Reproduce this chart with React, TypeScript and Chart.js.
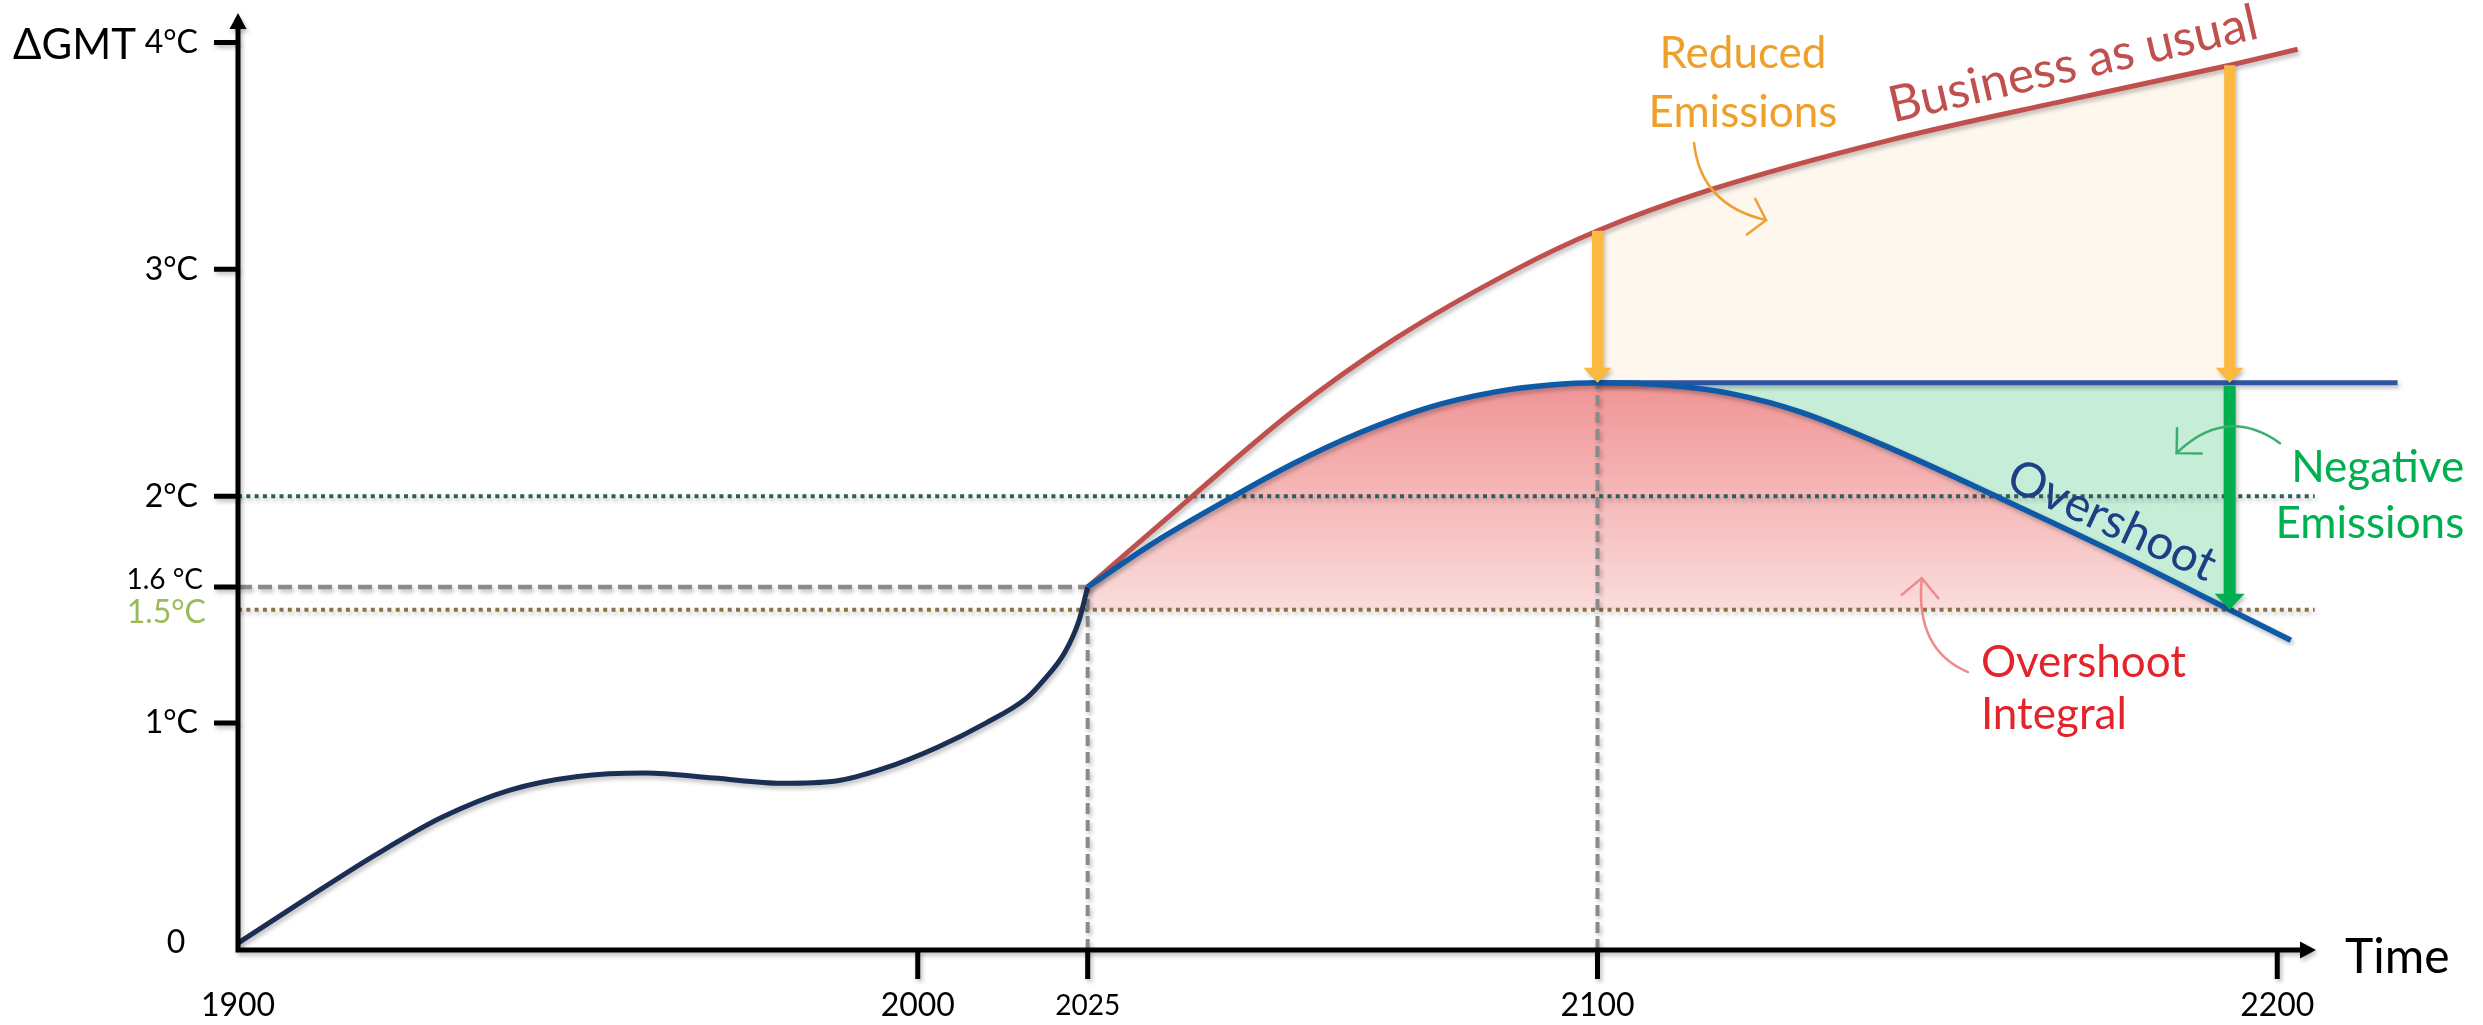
import React, { useEffect, useRef } from 'react';
import { Chart, registerables } from 'chart.js';

Chart.register(...registerables);

// ---------- scale extents ----------
const yearMin = 1900;
const yearMax = 2205.7;
const tempMin = 0;
const tempMax = 4.13;

// ---------- series ----------
const historyYears = [1900, 1910, 1920, 1930, 1940, 1950, 1960, 1970, 1980, 1988, 1995, 2003, 2010, 2016, 2018.4, 2021.6, 2023.7, 2025];
const historyTemps = [0.03, 0.225, 0.415, 0.585, 0.705, 0.765, 0.78, 0.758, 0.735, 0.745, 0.80, 0.895, 1.0, 1.11, 1.185, 1.31, 1.45, 1.6];

const bauYears = [2025, 2040, 2055, 2070, 2088, 2100, 2116.5, 2143, 2169, 2193, 2203];
const bauTemps = [1.6, 1.99, 2.37, 2.69, 3.0, 3.17, 3.35, 3.57, 3.745, 3.9, 3.97];

const overshootYears = [2025, 2035, 2045, 2055, 2065, 2075, 2085, 2093, 2100, 2110, 2120, 2130, 2144, 2159, 2177, 2193, 2202];
const overshootTemps = [1.6, 1.8, 1.975, 2.14, 2.28, 2.39, 2.46, 2.49, 2.5, 2.49, 2.45, 2.37, 2.2, 1.995, 1.74, 1.5, 1.365];

const plateauYears = [2100, 2217.7];
const plateauTemp = 2.5;

const todayYear = 2025;
const todayTemp = 1.6;
const peakYear = 2100;
const actionYear = 2193;

const limitTemps = [2.0, 1.5];
const limitSpan = [1900, 2205.5];

// ---------- ticks ----------
const yTickValues = [4, 3, 2, 1.6, 1];
const yTickLabels = ['4°C', '3°C', '2°C', '1.6 °C', '1°C'];
const xTickValues = [2000, 2025, 2100, 2200];
const xLabelValues = [1900, 2000, 2025, 2100, 2200];
const xLabelTexts = ['1900', '2000', '2025', '2100', '2200'];

// ---------- annotation anchors (data units) ----------
const reducedNoteCurve = [[2114.2, 3.557], [2115.2, 3.283], [2124.8, 3.217]];
const negativeNoteCurve = [[2200.4, 2.234], [2192.5, 2.402], [2185.2, 2.19]];
const integralNoteCurve = [[2154.5, 1.225], [2146.7, 1.322], [2147.7, 1.639]];

const FONT = 'Lato, "Open Sans", "DejaVu Sans", sans-serif';

const pts = (xs: number[], ys: number[]) => xs.map((x, i) => ({ x, y: ys[i] }));

function drawText(ctx: any, text: string, x: number, y: number, o: any) {
  ctx.save();
  ctx.translate(x, y);
  if (o.rotate) ctx.rotate((o.rotate * Math.PI) / 180);
  ctx.font = `${o.size}px ${FONT}`;
  ctx.fillStyle = o.color || '#000';
  ctx.textAlign = o.align || 'left';
  ctx.textBaseline = o.baseline || 'alphabetic';
  ctx.fillText(text, 0, 0);
  ctx.restore();
}

function setShadow(ctx: any) {
  ctx.shadowColor = 'rgba(0,0,0,0.25)';
  ctx.shadowBlur = 4;
  ctx.shadowOffsetX = 2;
  ctx.shadowOffsetY = 3;
}

export default function App() {
  const ref = useRef<HTMLCanvasElement>(null);

  useEffect(() => {
    const canvas = ref.current;
    if (!canvas) return;

    const history = pts(historyYears, historyTemps);
    const bau = pts(bauYears, bauTemps);
    const overshoot = pts(overshootYears, overshootTemps);
    const plateau = plateauYears.map((x) => ({ x, y: plateauTemp }));
    const bauAction = bau.filter((p) => p.x >= peakYear && p.x <= actionYear);
    const overshootAction = overshoot.filter((p) => p.x >= peakYear && p.x <= actionYear);

    const curve = (data: any, color: string, width: number) => ({
      data,
      borderColor: color,
      borderWidth: width,
      pointRadius: 0,
      fill: false,
      cubicInterpolationMode: 'monotone',
      clip: false,
      shadow: true,
    });
    const guide = (data: any, color: string, dash: number[], width: number) => ({
      data,
      borderColor: color,
      borderWidth: width,
      borderDash: dash,
      borderCapStyle: 'butt',
      pointRadius: 0,
      fill: false,
      tension: 0,
      clip: false,
      shadow: true,
    });

    const datasets: any[] = [
      curve(overshoot, '#0E5AA7', 5.5),
      curve(plateau, '#2E55A5', 5),
      curve(bau, '#C0504D', 5),
      curve(history, '#1B2F55', 5),
      guide([{ x: yearMin, y: todayTemp }, { x: todayYear, y: todayTemp }], '#8A8A8A', [14, 6], 4.5),
      guide([{ x: todayYear, y: tempMin }, { x: todayYear, y: todayTemp }], '#8A8A8A', [11, 6], 4),
      guide([{ x: peakYear, y: tempMin }, { x: peakYear, y: plateauTemp }], '#8A8A8A', [11, 6], 4),
      guide(limitSpan.map((x) => ({ x, y: limitTemps[0] })), '#2E5D5A', [4, 4.3], 4),
      guide(limitSpan.map((x) => ({ x, y: limitTemps[1] })), '#8C7047', [4, 4.3], 4),
      {
        data: bauAction,
        borderWidth: 0,
        pointRadius: 0,
        backgroundColor: '#FEF7EE',
        fill: { value: plateauTemp },
        cubicInterpolationMode: 'monotone',
        clip: false,
      },
      {
        data: overshootAction,
        borderWidth: 0,
        pointRadius: 0,
        backgroundColor: '#C6EDD8',
        fill: { value: plateauTemp },
        cubicInterpolationMode: 'monotone',
        clip: false,
      },
      {
        data: overshoot,
        borderWidth: 0,
        pointRadius: 0,
        backgroundColor: (c: any) => {
          const ch = c.chart;
          if (!ch.chartArea || !ch.scales.y) return 'rgba(240,150,150,0.6)';
          const y = ch.scales.y;
          const g = ch.ctx.createLinearGradient(0, y.getPixelForValue(plateauTemp), 0, y.getPixelForValue(limitTemps[1]));
          g.addColorStop(0, '#F09495');
          g.addColorStop(1, '#FBDCDC');
          return g;
        },
        fill: { target: { value: limitTemps[1] }, below: 'rgba(0,0,0,0)' },
        cubicInterpolationMode: 'monotone',
        clip: false,
      },
    ];

    const overlay = {
      id: 'overlay',
      beforeDatasetDraw(chart: any, args: any) {
        const ds = chart.data.datasets[args.index];
        if (ds.shadow) {
          chart.ctx.save();
          setShadow(chart.ctx);
        }
      },
      afterDatasetDraw(chart: any, args: any) {
        const ds = chart.data.datasets[args.index];
        if (ds.shadow) chart.ctx.restore();
      },
      afterDatasetsDraw(chart: any) {
        const ctx = chart.ctx;
        const X = (v: number) => chart.scales.x.getPixelForValue(v);
        const Y = (v: number) => chart.scales.y.getPixelForValue(v);

        // block arrows
        const blockArrow = (x: number, y1: number, y2: number, color: string, shaft: number, headW: number, headL: number) => {
          ctx.save();
          setShadow(ctx);
          ctx.fillStyle = color;
          ctx.beginPath();
          ctx.moveTo(x - shaft / 2, y1);
          ctx.lineTo(x + shaft / 2, y1);
          ctx.lineTo(x + shaft / 2, y2 - headL);
          ctx.lineTo(x + headW / 2, y2 - headL);
          ctx.lineTo(x, y2);
          ctx.lineTo(x - headW / 2, y2 - headL);
          ctx.lineTo(x - shaft / 2, y2 - headL);
          ctx.closePath();
          ctx.fill();
          ctx.restore();
        };
        const bauAt = (yr: number) => bauTemps[bauYears.indexOf(yr)];
        blockArrow(X(peakYear), Y(bauAt(peakYear)), Y(plateauTemp), '#FBB940', 11, 28, 15);
        blockArrow(X(actionYear), Y(bauAt(actionYear)), Y(plateauTemp), '#FBB940', 11, 28, 15);
        blockArrow(X(actionYear), Y(plateauTemp) + 3, Y(limitTemps[1]), '#00B050', 12, 30, 16);

        // thin curved note arrows
        const note = (c: number[][], color: string, spread: number, len: number) => {
          const p = c.map(([a, b]) => [X(a), Y(b)]);
          ctx.save();
          ctx.strokeStyle = color;
          ctx.lineWidth = 2.5;
          ctx.lineCap = 'round';
          ctx.beginPath();
          ctx.moveTo(p[0][0], p[0][1]);
          ctx.quadraticCurveTo(p[1][0], p[1][1], p[2][0], p[2][1]);
          ctx.stroke();
          const ang = Math.atan2(p[2][1] - p[1][1], p[2][0] - p[1][0]);
          const s = (spread * Math.PI) / 180;
          ctx.beginPath();
          ctx.moveTo(p[2][0] - len * Math.cos(ang - s), p[2][1] - len * Math.sin(ang - s));
          ctx.lineTo(p[2][0], p[2][1]);
          ctx.lineTo(p[2][0] - len * Math.cos(ang + s), p[2][1] - len * Math.sin(ang + s));
          ctx.stroke();
          ctx.restore();
        };
        note(reducedNoteCurve, '#F0A030', 50, 24);
        note(negativeNoteCurve, '#3BAE6E', 45, 25);
        note(integralNoteCurve, '#F08A8A', 45, 26);

        // axes
        const x0 = X(yearMin);
        const y0 = Y(tempMin);
        const yTop = Y(tempMax);
        const xEnd = X(yearMax);
        ctx.save();
        setShadow(ctx);
        ctx.strokeStyle = '#000';
        ctx.fillStyle = '#000';
        ctx.lineWidth = 5;
        ctx.lineCap = 'butt';
        ctx.beginPath();
        ctx.moveTo(x0, y0 + 2.5);
        ctx.lineTo(x0, yTop + 14);
        ctx.moveTo(x0 - 2.5, y0);
        ctx.lineTo(xEnd - 14, y0);
        ctx.stroke();
        ctx.beginPath();
        ctx.moveTo(x0, yTop);
        ctx.lineTo(x0 + 8.5, yTop + 16);
        ctx.lineTo(x0 - 8.5, yTop + 16);
        ctx.closePath();
        ctx.moveTo(xEnd, y0);
        ctx.lineTo(xEnd - 16, y0 - 8.5);
        ctx.lineTo(xEnd - 16, y0 + 8.5);
        ctx.closePath();
        ctx.fill();
        // ticks
        ctx.beginPath();
        yTickValues.forEach((v) => {
          ctx.moveTo(x0 - 24, Y(v));
          ctx.lineTo(x0, Y(v));
        });
        xTickValues.forEach((v) => {
          ctx.moveTo(X(v), y0);
          ctx.lineTo(X(v), y0 + 29);
        });
        ctx.stroke();
        ctx.restore();
      },
      afterDraw(chart: any) {
        const ctx = chart.ctx;
        const X = (v: number) => chart.scales.x.getPixelForValue(v);
        const Y = (v: number) => chart.scales.y.getPixelForValue(v);
        const x0 = X(yearMin);
        const y0 = Y(tempMin);

        // axis titles
        drawText(ctx, 'ΔGMT', 13, Y(4) + 17, { size: 42 });
        drawText(ctx, 'Time', X(yearMax) + 29, y0 + 8, { size: 48, baseline: 'middle' });

        // y tick labels
        yTickValues.forEach((v, i) => {
          const small = yTickLabels[i].indexOf(' ') >= 0;
          drawText(ctx, yTickLabels[i], x0 - (small ? 35 : 40), Y(v) - (small ? 7 : 0), {
            size: small ? 28 : 32,
            align: 'right',
            baseline: 'middle',
          });
        });
        drawText(ctx, '1.5°C', x0 - 32, Y(limitTemps[1]) + 3, { size: 32, align: 'right', baseline: 'middle', color: '#9BBB59' });
        drawText(ctx, '0', x0 - 62, y0 - 7, { size: 32, align: 'center', baseline: 'middle' });

        // x labels
        xLabelValues.forEach((v, i) => {
          drawText(ctx, xLabelTexts[i], X(v), y0 + 56, {
            size: v === todayYear ? 28 : 32,
            align: 'center',
            baseline: 'middle',
          });
        });

        // annotations
        drawText(ctx, 'Reduced', X(2121.4), Y(3.887), { size: 44, color: '#EFA02A', align: 'center' });
        drawText(ctx, 'Emissions', X(2121.4), Y(3.887) + 59, { size: 44, color: '#EFA02A', align: 'center' });
        drawText(ctx, 'Business as usual', X(2170.5), Y(3.834), { size: 50, color: '#C0504D', align: 'center', rotate: -13 });
        drawText(ctx, 'Negative', X(2227.5), Y(2.063), { size: 44, color: '#00B050', align: 'right' });
        drawText(ctx, 'Emissions', X(2227.5), Y(2.063) + 56, { size: 44, color: '#00B050', align: 'right' });
        drawText(ctx, 'Overshoot', X(2174.7), Y(1.83), { size: 48, color: '#1C3F85', align: 'center', rotate: 25 });
        drawText(ctx, 'Overshoot', X(2156.4), Y(1.203), { size: 44, color: '#E3252B' });
        drawText(ctx, 'Integral', X(2156.4), Y(1.203) + 52, { size: 44, color: '#E3252B' });
      },
    };

    const chart = new Chart(canvas, {
      type: 'line',
      data: { datasets },
      options: {
        animation: false,
        responsive: false,
        events: [],
        layout: { padding: { left: 238, right: 167, top: 13, bottom: 75 } },
        scales: {
          x: { type: 'linear', min: yearMin, max: yearMax, display: false },
          y: { type: 'linear', min: tempMin, max: tempMax, display: false },
        },
        plugins: { legend: { display: false }, tooltip: { enabled: false } },
        elements: { point: { radius: 0 } },
      },
      plugins: [overlay],
    } as any);

    return () => chart.destroy();
  }, []);

  return (
    <div style={{ position: 'absolute', left: 0, top: 0, width: 2483, height: 1025, background: '#fff' }}>
      <canvas ref={ref} width={2483} height={1025} style={{ width: 2483, height: 1025, display: 'block' }} />
    </div>
  );
}
